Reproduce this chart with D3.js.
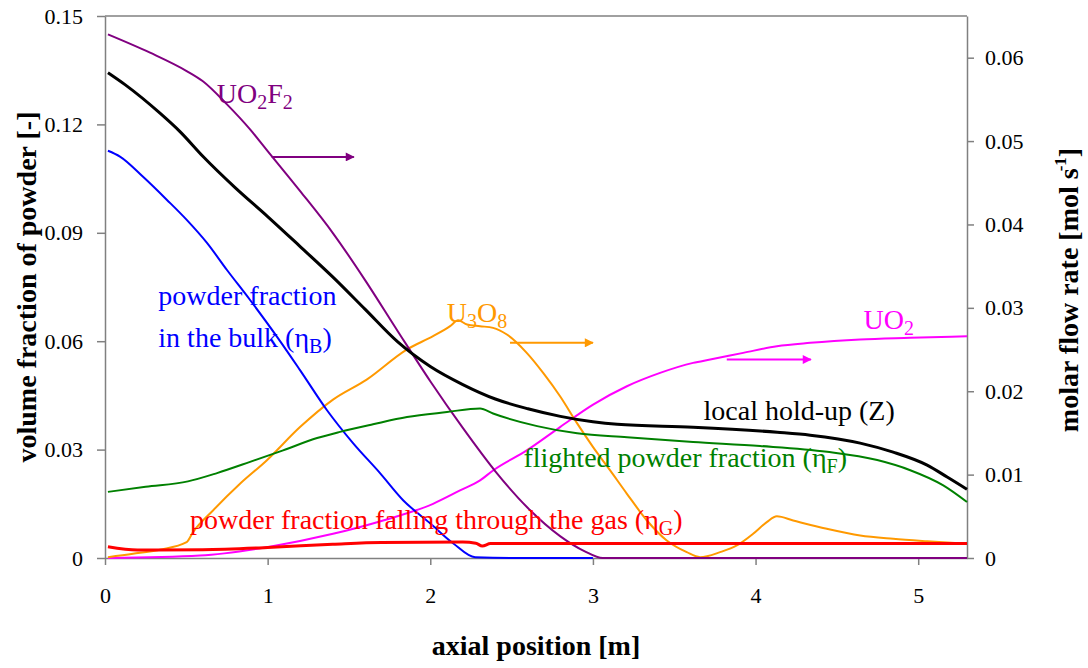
<!DOCTYPE html>
<html>
<head>
<meta charset="utf-8">
<script src="https://cdn.jsdelivr.net/npm/d3@7"></script>
<style>
  body { margin: 0; background: #fff; }
  svg text { font-family: "Liberation Serif", "Times New Roman", serif; }
</style>
</head>
<body>
<svg></svg>
<script>
// chart size and plot box
const width = 1088;
const height = 668;
const margin = { top: 16, right: 121, bottom: 110, left: 105 };

// axis ticks
const xTicks = [0, 1, 2, 3, 4, 5];
const leftTicks = [0, 0.03, 0.06, 0.09, 0.12, 0.15];
const rightTicks = [0, 0.01, 0.02, 0.03, 0.04, 0.05, 0.06];

// left axis series (volume fraction)
const holdupX = [0.018, 0.123, 0.338, 0.461, 0.603, 0.8, 1.0, 1.2, 1.4, 1.6, 1.8, 2.0, 2.2, 2.4, 2.6, 2.8, 3.0, 3.149, 3.616, 4.133, 4.336, 4.643, 4.846, 5.055, 5.178, 5.3]
const holdupY = [0.1343, 0.1310, 0.1231, 0.1180, 0.1111, 0.1025, 0.0945, 0.0862, 0.0778, 0.0688, 0.0598, 0.0530, 0.0480, 0.0440, 0.0413, 0.0392, 0.0377, 0.0370, 0.0362, 0.0348, 0.0340, 0.0318, 0.0293, 0.0257, 0.0224, 0.0190]

const bulkX = [0.018, 0.092, 0.234, 0.381, 0.504, 0.627, 0.750, 0.892, 1.058, 1.199, 1.365, 1.525, 1.691, 1.833, 1.999, 2.140, 2.276, 2.6, 3.0]
const bulkY = [0.1127, 0.1111, 0.1055, 0.0991, 0.0935, 0.0872, 0.0797, 0.0714, 0.0612, 0.0520, 0.0409, 0.0318, 0.0235, 0.0160, 0.0096, 0.0041, 0.0002, 0, 0]

const flightX = [0.018, 0.25, 0.510, 0.689, 0.892, 1.095, 1.304, 1.445, 1.648, 1.857, 2.103, 2.306, 2.386, 2.657, 2.903, 3.210, 3.616, 4.028, 4.440, 4.748, 4.951, 5.154, 5.3]
const flightY = [0.0183, 0.0197, 0.0212, 0.0235, 0.0266, 0.0298, 0.0332, 0.0349, 0.0370, 0.0390, 0.0404, 0.0414, 0.0400, 0.0365, 0.0345, 0.0334, 0.0321, 0.0310, 0.0294, 0.0271, 0.0243, 0.0201, 0.0155]

const gasX = [0.018, 0.2, 0.6, 1.0, 1.4, 1.7, 2.2, 2.28, 2.32, 2.37, 3.0, 4.0, 5.3]
const gasY = [0.0031, 0.0022, 0.0023, 0.0029, 0.0038, 0.0043, 0.0044, 0.0041, 0.0033, 0.0040, 0.0040, 0.0040, 0.0040]

// right axis series (molar flow rate)
const uo2f2X = [0.018, 0.277, 0.502, 0.6, 0.75, 0.892, 1.0, 1.2, 1.4, 1.6, 1.8, 2.0, 2.2, 2.4, 2.6, 2.8, 2.95, 3.06, 4.0, 5.3]
const uo2f2Y = [0.0628, 0.0606, 0.0584, 0.0572, 0.0544, 0.0514, 0.0488, 0.0440, 0.0390, 0.0333, 0.0272, 0.0212, 0.0156, 0.0104, 0.0060, 0.0026, 0.0008, 0, 0, 0]

const u3o8X = [0.018, 0.172, 0.338, 0.502, 0.541, 0.664, 0.830, 0.994, 1.199, 1.402, 1.609, 1.855, 2.017, 2.122, 2.171, 2.226, 2.306, 2.386, 2.471, 2.593, 2.694, 2.798, 2.901, 3.001, 3.106, 3.209, 3.332, 3.454, 3.577, 3.659, 3.782, 3.885, 3.985, 4.069, 4.131, 4.231, 4.438, 4.643, 4.846, 5.055, 5.3]
const u3o8Y = [0.0001, 0.0005, 0.0010, 0.0019, 0.0031, 0.0057, 0.0089, 0.0117, 0.0157, 0.0190, 0.0214, 0.0250, 0.0266, 0.0278, 0.0285, 0.0280, 0.0278, 0.0276, 0.0268, 0.0246, 0.0222, 0.0194, 0.0162, 0.0133, 0.0105, 0.0077, 0.0045, 0.0021, 0.0007, 0.0001, 0.0007, 0.0015, 0.0029, 0.0043, 0.0050, 0.0045, 0.0035, 0.0027, 0.0023, 0.0020, 0.0017]

const uo2X = [0.018, 0.584, 0.996, 1.402, 1.710, 2.017, 2.183, 2.306, 2.386, 2.593, 2.798, 3.001, 3.209, 3.413, 3.616, 3.721, 3.924, 4.131, 4.336, 4.643, 4.951, 5.3]
const uo2Y = [0, 0.0003, 0.0013, 0.0029, 0.0045, 0.0065, 0.0081, 0.0093, 0.0105, 0.0129, 0.0157, 0.0184, 0.0206, 0.0222, 0.0234, 0.0238, 0.0246, 0.0254, 0.0258, 0.0262, 0.0264, 0.0266]

const svg = d3.select('svg')
                .attr('width', width)
                .attr('height', height)

let xScale; let yLeft; let yRight

let buildScales = () => {
    xScale = d3.scaleLinear()
                .domain([0, 5.3])
                .range([margin.left, width - margin.right])
    yLeft = d3.scaleLinear()
                .domain([0, 0.15])
                .range([height - margin.bottom, margin.top])
    yRight = d3.scaleLinear()
                .domain([0, 0.065])
                .range([height - margin.bottom, margin.top])
}

let fmt = d => d === 0 ? '0' : d3.format('.2f')(d)

let styleAxis = g => {
    g.attr('font-family', null)
    g.selectAll('path, line').attr('stroke', '#808080').attr('stroke-width', 1.5)
    g.selectAll('text').attr('fill', '#000').attr('font-size', 22)
}

let buildAxes = () => {
    // top frame line
    svg.append('line')
        .attr('x1', xScale(0)).attr('x2', xScale(5.3))
        .attr('y1', yLeft(0.15)).attr('y2', yLeft(0.15))
        .attr('stroke', '#808080').attr('stroke-width', 1.5)

    svg.append('g')
        .attr('transform', 'translate(0,' + (height - margin.bottom) + ')')
        .call(d3.axisBottom(xScale).tickValues(xTicks).tickFormat(d3.format('d'))
                .tickSize(7).tickSizeOuter(0).tickPadding(22))
        .call(styleAxis)

    svg.append('g')
        .attr('transform', 'translate(' + margin.left + ',0)')
        .call(d3.axisLeft(yLeft).tickValues(leftTicks).tickFormat(fmt)
                .tickSize(8).tickSizeOuter(0).tickPadding(14))
        .call(styleAxis)

    svg.append('g')
        .attr('transform', 'translate(' + (width - margin.right) + ',0)')
        .call(d3.axisRight(yRight).tickValues(rightTicks).tickFormat(fmt)
                .tickSize(7).tickSizeOuter(0).tickPadding(11))
        .call(styleAxis)

    // axis titles
    svg.append('text')
        .attr('x', (xScale(0) + xScale(5.3)) / 2)
        .attr('y', 655)
        .attr('text-anchor', 'middle')
        .attr('font-weight', 'bold').attr('font-size', 28)
        .text('axial position [m]')

    svg.append('text')
        .attr('transform', 'translate(36,' + ((yLeft(0) + yLeft(0.15)) / 2) + ') rotate(-90)')
        .attr('text-anchor', 'middle')
        .attr('font-weight', 'bold').attr('font-size', 28)
        .text('volume fraction of powder [-]')

    let rt = svg.append('text')
        .attr('transform', 'translate(1078,290) rotate(-90)')
        .attr('text-anchor', 'middle')
        .attr('font-weight', 'bold').attr('font-size', 28)
    rt.append('tspan').text('molar flow rate [mol s')
    rt.append('tspan').attr('font-size', 17).attr('dy', -12).attr('dx', -3).text('-1')
    rt.append('tspan').attr('dy', 12).text(']')
}

// draw one curve from an x array and a y array
let drawLine = (xs, ys, yScale, color, w) => {
    let pts = xs.map((x, i) => [x, ys[i]])
    let line = d3.line()
                .x(d => xScale(d[0]))
                .y(d => yScale(d[1]))
                .curve(d3.curveMonotoneX)
    svg.append('path')
        .datum(pts)
        .attr('d', line)
        .attr('fill', 'none')
        .attr('stroke', color)
        .attr('stroke-width', w)
        .attr('stroke-linejoin', 'round')
}

let drawLines = () => {
    drawLine(uo2X, uo2Y, yRight, '#ff00ff', 2)
    drawLine(u3o8X, u3o8Y, yRight, '#ff9900', 2)
    drawLine(bulkX, bulkY, yLeft, '#0000ff', 2)
    drawLine(uo2f2X, uo2f2Y, yRight, '#800080', 2)
    drawLine(flightX, flightY, yLeft, '#008000', 2)
    drawLine(gasX, gasY, yLeft, '#ff0000', 3)
    drawLine(holdupX, holdupY, yLeft, '#000000', 3)
}

// label with plain / subscript parts, placed in data units
let label = (x, y, color, parts) => {
    let t = svg.append('text')
        .attr('x', xScale(x)).attr('y', yLeft(y))
        .attr('fill', color).attr('font-size', 28)
    parts.forEach(p => {
        if (p[1] === 'sub') {
            t.append('tspan').attr('font-size', 20).attr('dy', 6).text(p[0])
        } else {
            t.append('tspan').attr('dy', p[2] || 0).text(p[0])
        }
    })
}

let arrow = (x1, x2, y, color, id) => {
    svg.append('defs').append('marker')
        .attr('id', id)
        .attr('viewBox', '0 0 10 10')
        .attr('refX', 9).attr('refY', 5)
        .attr('markerWidth', 11).attr('markerHeight', 9)
        .attr('markerUnits', 'userSpaceOnUse')
        .attr('orient', 'auto')
        .append('path')
        .attr('d', 'M0,0L10,5L0,10Z')
        .attr('fill', color)
    svg.append('line')
        .attr('x1', xScale(x1)).attr('x2', xScale(x2))
        .attr('y1', yRight(y)).attr('y2', yRight(y))
        .attr('stroke', color).attr('stroke-width', 2)
        .attr('marker-end', 'url(#' + id + ')')
}

let drawLabels = () => {
    label(0.687, 0.1260, '#800080', [['UO'], ['2', 'sub'], ['F', '', -6], ['2', 'sub']])
    arrow(1.025, 1.53, 0.0481, '#800080', 'a1')

    label(0.328, 0.0700, '#0000ff', [['powder fraction']])
    label(0.328, 0.0584, '#0000ff', [['in the bulk (η'], ['B', 'sub'], [')', '', -6]])

    label(2.101, 0.0653, '#ff9900', [['U'], ['3', 'sub'], ['O', '', -6], ['8', 'sub']])
    arrow(2.49, 3.0, 0.0258, '#ff9900', 'a2')

    label(4.664, 0.0635, '#ff00ff', [['UO'], ['2', 'sub']])
    arrow(3.823, 4.34, 0.0238, '#ff00ff', 'a3')

    label(3.680, 0.0381, '#000000', [['local hold-up (Z)']])
    label(2.573, 0.0252, '#008000', [['flighted powder fraction (η'], ['F', 'sub'], [')', '', -6]])
    label(0.523, 0.0081, '#ff0000', [['powder fraction falling through the gas (η'], ['G', 'sub'], [')', '', -6]])
}

buildScales()
buildAxes()
drawLines()
drawLabels()
</script>
</body>
</html>
